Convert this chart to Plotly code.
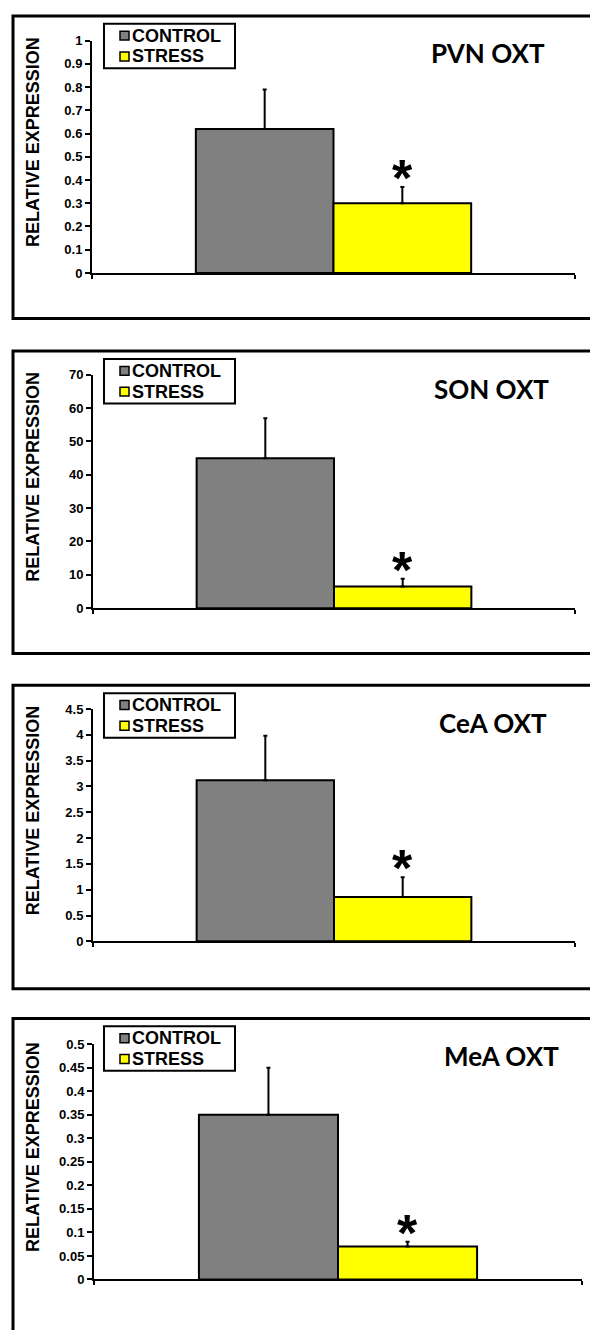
import plotly.graph_objects as go

# ---- data -------------------------------------------------------------
regions = ["PVN OXT", "SON OXT", "CeA OXT", "MeA OXT"]
groups = ["CONTROL", "STRESS"]
control_mean = [0.62, 45, 3.12, 0.35]
control_err = [0.17, 12, 0.86, 0.10]
stress_mean = [0.30, 6.5, 0.86, 0.07]
stress_err = [0.07, 2.3, 0.38, 0.01]
y_max = [1, 70, 4.5, 0.5]
y_step = [0.1, 10, 0.5, 0.05]
y_title = "RELATIVE EXPRESSION"
signif = ["*", "*", "*", "*"]

# ---- styling / layout (pixels) ------------------------------------------
W, H = 590, 1330
group_colors = ["#808080", "#FFFF00"]
BARGAP = 0.43
panel_top = [9, 348, 686, 1023]
panel_bottom = [315, 654, 993, 1345]
plot_top = [34, 372, 710, 1049]
plot_bottom = [269, 608, 945, 1287]
plot_left = [92, 93, 93, 94]
plot_right = [575, 575, 575, 582]
title_cx = [488, 491, 493, 501]

AX_FONT = "Liberation Sans"
TITLE_FONT = "Lato"


def px(x):
    return x / W


def py(y):
    return 1 - y / H


fig = go.Figure()
shapes = []
annotations = []

for i in range(4):
    n = "" if i == 0 else str(i + 1)
    xa, ya = "x" + n, "y" + n
    means = [control_mean[i], stress_mean[i]]
    errs = [control_err[i], stress_err[i]]
    for g in range(2):
        fig.add_trace(go.Bar(
            x=[regions[i]], y=[means[g]], name=groups[g],
            marker=dict(color=group_colors[g], line=dict(color="black", width=2)),
            error_y=dict(type="data", array=[errs[g]], arrayminus=[0],
                         symmetric=False, color="black", thickness=2, width=2),
            xaxis=xa, yaxis=ya, showlegend=False,
        ))

    fig.layout["xaxis" + n] = dict(
        domain=[px(plot_left[i]), px(plot_right[i])], anchor=ya,
        type="category", range=[-0.5, 0.5], tickson="boundaries",
        ticks="outside", ticklen=4, tickwidth=2, tickcolor="black",
        showticklabels=False, showline=True, linewidth=2, linecolor="black",
        showgrid=False, zeroline=False, fixedrange=True,
    )
    fig.layout["yaxis" + n] = dict(
        domain=[py(plot_bottom[i]), py(plot_top[i])], anchor=xa,
        range=[0, y_max[i]], tick0=0, dtick=y_step[i],
        ticks="outside", ticklen=5, tickwidth=2, tickcolor="black",
        tickfont=dict(family=AX_FONT, size=13, color="black", weight="bold"),
        showline=True, linewidth=2, linecolor="black",
        showgrid=False, zeroline=False, fixedrange=True,
    )

    # panel frame
    shapes.append(dict(type="rect", xref="paper", yref="paper",
                       x0=px(13), x1=px(W + 20), y0=py(panel_bottom[i]), y1=py(panel_top[i]),
                       line=dict(color="black", width=3), fillcolor="rgba(0,0,0,0)", layer="below"))

    # y-axis title
    annotations.append(dict(
        text=y_title, xref="paper", yref="paper", textangle=-90,
        x=px(33), y=py((plot_top[i] + plot_bottom[i]) / 2 - 15),
        xanchor="center", yanchor="middle", showarrow=False,
        font=dict(family=AX_FONT, size=18, color="black", weight="bold"),
    ))

    # panel title
    annotations.append(dict(
        text=regions[i], xref="paper", yref="paper",
        x=px(title_cx[i]), y=py(panel_top[i] + 38),
        xanchor="center", yanchor="middle", showarrow=False,
        font=dict(family=TITLE_FONT, size=26, color="black", weight="bold"),
    ))

    # significance marker above the stress bar
    annotations.append(dict(
        text=signif[i], xref=xa, yref=ya,
        x=(1 - BARGAP) / 4, y=stress_mean[i] + stress_err[i],
        xanchor="center", yanchor="bottom", yshift=-22, showarrow=False,
        font=dict(family=AX_FONT, size=52, color="black", weight="bold"),
    ))

    # legend box
    lt = panel_top[i] + 8
    shapes.append(dict(type="rect", xref="paper", yref="paper",
                       x0=px(104), x1=px(235), y0=py(lt + 45), y1=py(lt),
                       line=dict(color="black", width=2), fillcolor="white"))
    for g in range(2):
        cy = lt + 12 + 21 * g
        shapes.append(dict(type="rect", xref="paper", yref="paper",
                           x0=px(120), x1=px(129), y0=py(cy + 4.5), y1=py(cy - 4.5),
                           line=dict(color="black", width=1.5), fillcolor=group_colors[g]))
        annotations.append(dict(
            text=groups[g], xref="paper", yref="paper",
            x=px(130), y=py(cy), xanchor="left", yanchor="middle", showarrow=False,
            font=dict(family=AX_FONT, size=18, color="black", weight="bold"),
        ))

fig.update_layout(
    width=W, height=H, margin=dict(l=0, r=0, t=0, b=0),
    paper_bgcolor="white", plot_bgcolor="white",
    barmode="group", bargap=BARGAP, bargroupgap=0,
    shapes=shapes, annotations=annotations,
)

fig.write_html("out.html", config={"displayModeBar": False})
